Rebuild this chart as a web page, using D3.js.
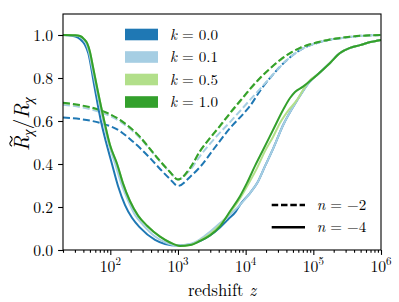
<!DOCTYPE html>
<html><head><meta charset="utf-8">
<script src="https://cdn.jsdelivr.net/npm/d3@7"></script>
<style>
body{margin:0;background:#fff}
svg{display:block}
</style>
</head><body>
<svg id="c" width="399" height="302"></svg>
<script>
// ---------- data ----------
const kLabels = ["0.0", "0.1", "0.5", "1.0"];
const nLabels = ["\u22122", "\u22124"];
const xTickExponents = [2, 3, 4, 5, 6];
const yTickValues = [0, 0.2, 0.4, 0.6, 0.8, 1.0];

// n = -4 (solid)
const solidK00 = [[20,1.0],[27.2,0.997],[33.3,0.988],[38.2,0.972],[42.3,0.953],[47.3,0.915],[57.4,0.772],[72.1,0.605],[86.4,0.502],[104.9,0.405],[130,0.298],[165,0.209],[209,0.150],[275,0.104],[458,0.047],[643,0.028],[1000,0.021],[1506,0.026],[2117,0.042],[2972,0.068],[4178,0.105],[5487,0.142],[7195,0.180],[8253,0.210],[11600,0.265],[14720,0.310],[19330,0.390],[25370,0.470],[35650,0.580],[57400,0.695],[89400,0.785],[113400,0.814],[176500,0.870],[247900,0.916],[348300,0.940],[489300,0.953],[696600,0.967],[1e6,0.977]];
const solidK01 = [[20,1.0],[30.1,0.998],[35.7,0.993],[40.9,0.977],[43.7,0.963],[48.4,0.921],[53.7,0.851],[63.6,0.735],[78,0.605],[95.7,0.488],[117,0.405],[144,0.312],[183,0.230],[232,0.163],[304,0.117],[458,0.063],[643,0.036],[1000,0.021],[1506,0.028],[2117,0.050],[2972,0.085],[4178,0.125],[5875,0.165],[8253,0.210],[11600,0.265],[14720,0.310],[19330,0.390],[25370,0.470],[35650,0.580],[57400,0.695],[89400,0.785],[113400,0.814],[176500,0.870],[247900,0.916],[348300,0.940],[489300,0.953],[696600,0.967],[1e6,0.977]];
const solidK05 = [[20,1.0],[30.1,0.9986],[35.7,0.995],[40.9,0.981],[45.3,0.963],[50.1,0.921],[55.5,0.851],[65.8,0.735],[80.7,0.605],[99,0.488],[126,0.400],[154,0.310],[195,0.228],[257,0.160],[349,0.113],[543,0.062],[762,0.035],[1072,0.019],[1506,0.023],[2117,0.045],[2972,0.074],[4178,0.118],[6285,0.186],[8253,0.240],[11210,0.312],[14720,0.381],[19330,0.460],[25370,0.526],[32190,0.591],[42270,0.647],[57400,0.698],[70400,0.744],[89400,0.790],[113400,0.814],[176500,0.870],[247900,0.916],[348300,0.940],[489300,0.953],[696600,0.967],[1e6,0.977]];
const solidK10 = [[20,1.0],[30.1,0.9986],[35.7,0.995],[40.9,0.981],[45.3,0.963],[50.1,0.921],[55.5,0.851],[65.8,0.735],[80.7,0.605],[99,0.488],[126,0.400],[154,0.310],[195,0.228],[257,0.160],[349,0.113],[543,0.062],[762,0.035],[1072,0.019],[1506,0.023],[2117,0.042],[2972,0.068],[4178,0.110],[5875,0.180],[8253,0.250],[10470,0.312],[13750,0.391],[18060,0.465],[25370,0.558],[35650,0.651],[45260,0.707],[53600,0.735],[70400,0.760],[89400,0.786],[113400,0.814],[176500,0.870],[247900,0.916],[348300,0.940],[489300,0.953],[696600,0.967],[1e6,0.977]];

// n = -2 (dashed)
const dashK00 = [[20,0.616],[35.7,0.609],[70.4,0.591],[139,0.553],[195,0.516],[275,0.474],[386,0.428],[543,0.377],[762,0.330],[1000,0.298],[1506,0.340],[2117,0.386],[3294,0.465],[5875,0.567],[9787,0.642],[11600,0.670],[16300,0.740],[22910,0.800],[40840,0.884],[63560,0.930],[125600,0.967],[348300,0.991],[1e6,1.0]];
const dashK01 = [[20,0.676],[35.7,0.665],[70.4,0.642],[139,0.598],[275,0.521],[386,0.468],[543,0.412],[762,0.363],[1000,0.328],[1506,0.372],[2117,0.437],[3525,0.521],[5875,0.595],[11600,0.698],[22910,0.800],[40840,0.884],[63560,0.930],[125600,0.967],[348300,0.991],[1e6,1.0]];
const dashK05 = [[20,0.683],[35.7,0.672],[70.4,0.649],[139,0.604],[275,0.525],[386,0.470],[543,0.414],[762,0.363],[1000,0.328],[1506,0.380],[2117,0.458],[2972,0.519],[4178,0.575],[5875,0.634],[8253,0.690],[11600,0.746],[16300,0.798],[22910,0.843],[32190,0.882],[45260,0.915],[63560,0.939],[125600,0.969],[348300,0.992],[1e6,1.0]];
const dashK10 = [[20,0.685],[35.7,0.674],[70.4,0.651],[139,0.605],[275,0.526],[386,0.470],[543,0.414],[762,0.363],[1000,0.328],[1506,0.381],[2117,0.460],[2972,0.521],[4178,0.577],[5875,0.637],[8253,0.693],[11600,0.749],[16300,0.800],[22910,0.844],[32190,0.884],[45260,0.916],[63560,0.940],[125600,0.969],[348300,0.992],[1e6,1.0]];

// ---------- drawing ----------
const colors = ["#1f78b4", "#a6cee3", "#b2df8a", "#33a02c"];
const FONT = "'Latin Modern Roman','Liberation Serif',serif";
const W = 399, H = 302;
const L = 63, R = 381, T = 14, B = 250;
const svg = d3.select("#c");
svg.append("rect").attr("width", W).attr("height", H).attr("fill", "#fff");

// font-size helper: size so that a sample string has a given width
function fitSize(build, target, base) {
  const t = svg.append("text").style("font-family", FONT).style("font-size", base + "px");
  build(t);
  const w = t.node().getComputedTextLength();
  t.remove();
  return w > 0 ? base * target / w : base;
}
const fsTick = fitSize(t => t.text("1.0"), 20, 16.7);
const fsXLab = fitSize(t => { t.append("tspan").text("redshift "); t.append("tspan").style("font-style", "italic").text("z"); }, 68, 16.7);
const fsLeg = fitSize(t => { t.append("tspan").style("font-style", "italic").text("k"); t.append("tspan").text(" = 0.0"); }, 48, 16.7);

const x = d3.scaleLog().domain([20, 1e6]).range([L, R]);
const y = d3.scaleLinear().domain([0, (B - T) / 215]).range([B, T]);

svg.append("defs").append("clipPath").attr("id", "clip")
  .append("rect").attr("x", L).attr("y", T).attr("width", R - L).attr("height", B - T);

const line = d3.line().x(d => x(d[0])).y(d => y(d[1])).curve(d3.curveMonotoneX);
const plot = svg.append("g").attr("clip-path", "url(#clip)");

const dashed = [dashK00, dashK01, dashK05, dashK10];
const solid = [solidK00, solidK01, solidK05, solidK10];
dashed.forEach((s, i) => {
  plot.append("path").attr("d", line(s)).attr("fill", "none")
    .attr("stroke", colors[i]).attr("stroke-width", 2).attr("stroke-dasharray", "7,3");
});
solid.forEach((s, i) => {
  plot.append("path").attr("d", line(s)).attr("fill", "none")
    .attr("stroke", colors[i]).attr("stroke-width", 2);
});

// axes
const majors = xTickExponents.map(e => Math.pow(10, e));
const minors = [];
for (let e = 1; e < 6; e++) for (let m = 2; m <= 9; m++) {
  const v = m * Math.pow(10, e);
  if (v >= 20 && v <= 1e6) minors.push(v);
}
const gx = svg.append("g").attr("transform", `translate(0,${B})`);
gx.call(d3.axisBottom(x).tickValues(majors).tickSize(4.9).tickFormat(""));
gx.call(g => g.select(".domain").remove());
const gxm = svg.append("g").attr("transform", `translate(0,${B})`);
gxm.call(d3.axisBottom(x).tickValues(minors).tickSize(2.8).tickFormat(""));
gxm.call(g => g.select(".domain").remove());

xTickExponents.forEach(e => {
  const t = svg.append("text").attr("x", x(Math.pow(10, e))).attr("y", 272.3)
    .attr("text-anchor", "middle").style("font-size", fsTick + "px");
  t.append("tspan").text("10");
  t.append("tspan").attr("dy", "-7").style("font-size", (fsTick * 0.7) + "px").text(String(e));
});

const gy = svg.append("g").attr("transform", `translate(${L},0)`);
gy.call(d3.axisLeft(y).tickValues(yTickValues).tickSize(4.9).tickPadding(4.9).tickFormat(d3.format(".1f")));
gy.call(g => g.select(".domain").remove());
gy.selectAll("text").style("font-size", fsTick + "px").attr("fill", "#000");
svg.selectAll(".tick line").attr("stroke", "#000").attr("stroke-width", 1.1);

svg.append("rect").attr("x", L).attr("y", T).attr("width", R - L).attr("height", B - T)
  .attr("fill", "none").attr("stroke", "#000").attr("stroke-width", 1.1);

// x label
const xl = svg.append("text").attr("x", (L + R) / 2).attr("y", 295.5).attr("text-anchor", "middle")
  .style("font-size", fsXLab + "px");
xl.append("tspan").text("redshift ");
xl.append("tspan").style("font-style", "italic").text("z");

// y label
const yg = svg.append("g").attr("transform", "translate(29,124) rotate(-90)");
const yt = yg.append("text").style("font-size", "21px").style("font-style", "italic");
yt.append("tspan").text("R");
yt.append("tspan").attr("dy", 4).style("font-size", "14.5px").text("\u03c7");
yt.append("tspan").attr("dy", -4).style("font-style", "normal").text("/");
yt.append("tspan").text("R");
yt.append("tspan").attr("dy", 4).style("font-size", "14.5px").text("\u03c7");
svg.selectAll("text").style("font-family", FONT);
const len = yt.node().getComputedTextLength();
yt.attr("x", -len / 2);
const rW = yt.node().getSubStringLength(0, 1);
const tx = -len / 2 + rW / 2 + 2;
yg.append("path")
  .attr("d", `M${tx - 5},-17 C${tx - 3},-20.5 ${tx - 1},-19 ${tx},-18 C${tx + 1},-17 ${tx + 3},-15.5 ${tx + 5},-19`)
  .attr("fill", "none").attr("stroke", "#000").attr("stroke-width", 1.1);

// legend 1 (k)
const rowY = [34.5, 57, 79.5, 102];
kLabels.forEach((k, i) => {
  svg.append("rect").attr("x", 125).attr("y", rowY[i] - 5.8).attr("width", 33).attr("height", 11.6)
    .attr("fill", colors[i]);
  const t = svg.append("text").attr("x", 170).attr("y", rowY[i] + 5).style("font-size", fsLeg + "px")
    .style("font-family", FONT);
  t.append("tspan").style("font-style", "italic").text("k");
  t.append("tspan").text(" = " + k);
});

// legend 2 (n)
const nRowY = [205, 227.3];
nLabels.forEach((n, i) => {
  svg.append("line").attr("x1", 271.7).attr("x2", 305).attr("y1", nRowY[i]).attr("y2", nRowY[i])
    .attr("stroke", "#000").attr("stroke-width", 2.6)
    .attr("stroke-dasharray", i === 0 ? "6.5,2.8" : null);
  const t = svg.append("text").attr("x", 316.7).attr("y", nRowY[i] + 5).style("font-size", fsLeg + "px")
    .style("font-family", FONT);
  t.append("tspan").style("font-style", "italic").text("n");
  t.append("tspan").text(" = " + n);
});
</script>
</body></html>
